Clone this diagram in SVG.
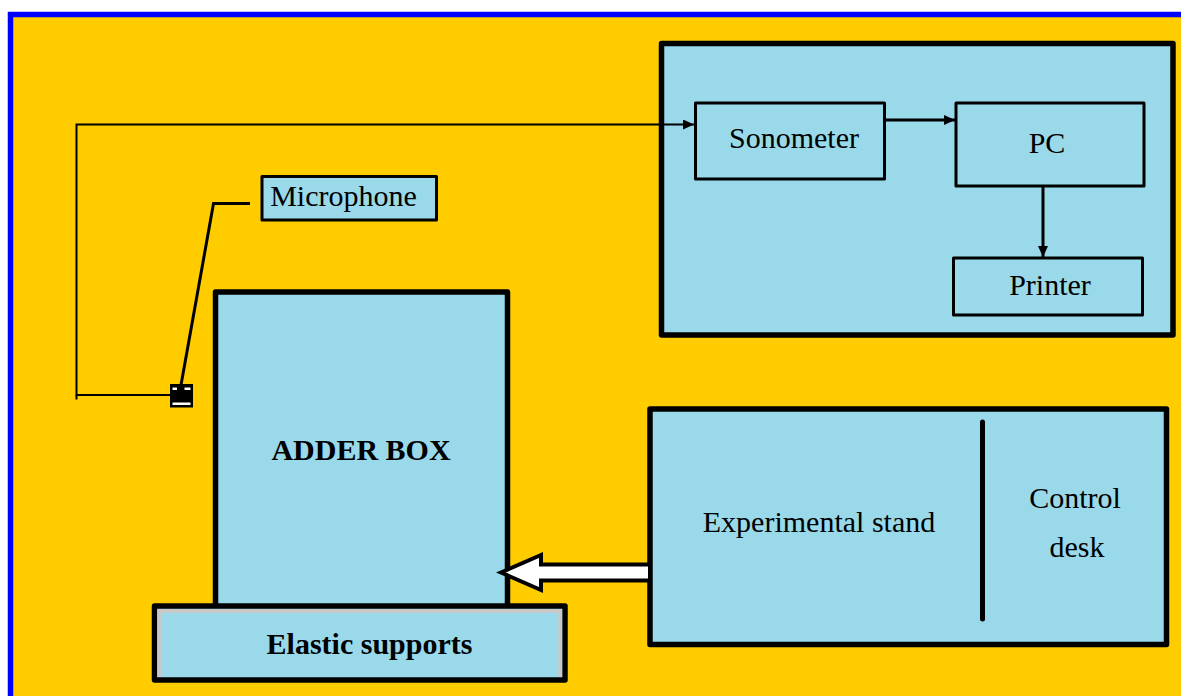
<svg xmlns="http://www.w3.org/2000/svg" width="1181" height="696" viewBox="0 0 1181 696">
  <defs>
    <style>
      .box { fill: #99D9EA; stroke: #000; stroke-linejoin: round; }
      .thick { stroke-width: 5.5; }
      .thin { stroke-width: 3; }
      .lbl { font-family: "Liberation Serif", "Times New Roman", serif; font-size: 30px; fill: #000; }
      .bold { font-weight: bold; }
      .wire { fill: none; stroke: #000; }
    </style>
    <marker id="head" markerUnits="userSpaceOnUse" markerWidth="11" markerHeight="10" refX="11" refY="5" orient="auto">
      <path d="M0,0 L11,5 L0,10 z" fill="#000"/>
    </marker>
  </defs>

  <!-- page background with blue frame -->
  <rect x="0" y="0" width="1181" height="696" fill="#FFFFFF"/>
  <rect x="10.5" y="14.5" width="1200" height="720" fill="#FFCC00" stroke="#0000FF" stroke-width="5.5"/>

  <!-- measurement chain panel -->
  <g id="acquisition-panel">
    <rect class="box thick" x="661.5" y="43.5" width="511.5" height="291.5"/>
  </g>

  <g id="sonometer">
    <rect class="box thin" x="695.5" y="103" width="189" height="76"/>
    <text class="lbl" x="794" y="148" text-anchor="middle">Sonometer</text>
  </g>

  <g id="pc">
    <rect class="box thin" x="956" y="103" width="188" height="83"/>
    <text class="lbl" x="1047" y="153" text-anchor="middle">PC</text>
  </g>

  <g id="printer">
    <rect class="box thin" x="953.5" y="258" width="189" height="57"/>
    <text class="lbl" x="1050" y="295" text-anchor="middle">Printer</text>
  </g>

  <g id="microphone-label">
    <rect class="box thin" x="262" y="176.5" width="174.5" height="43.5"/>
    <text class="lbl" x="343.5" y="206" text-anchor="middle">Microphone</text>
  </g>

  <g id="microphone">
    <rect x="170.5" y="384.5" width="22" height="22.5" fill="#000" stroke="#000" stroke-width="1"/>
    <rect x="172.5" y="387.5" width="4.5" height="2.5" fill="#FFF"/>
    <rect x="184.5" y="387.5" width="6" height="2.5" fill="#FFF"/>
    <rect x="172.5" y="402.5" width="18" height="2.5" fill="#FFF"/>
  </g>

  <g id="adder-box">
    <rect class="box thick" x="215.5" y="292" width="292" height="330"/>
    <text class="lbl bold" x="361" y="460" text-anchor="middle">ADDER BOX</text>
  </g>

  <g id="elastic-supports">
    <rect class="box thick" x="154.5" y="606" width="410.5" height="74"/>
    <path d="M159.2,677 V611 H560.2 V677" fill="none" stroke="#C8C8C8" stroke-width="4"/>
    <text class="lbl bold" x="369.5" y="654" text-anchor="middle">Elastic supports</text>
  </g>

  <g id="experimental-stand">
    <rect class="box thick" x="650" y="409" width="516.5" height="235.5"/>
    <line x1="982.5" y1="422" x2="982.5" y2="619" stroke="#000" stroke-width="5" stroke-linecap="round"/>
    <text class="lbl" x="819" y="532" text-anchor="middle">Experimental stand</text>
    <text class="lbl" x="1075" y="508" text-anchor="middle">Control</text>
    <text class="lbl" x="1077" y="557" text-anchor="middle">desk</text>
  </g>

  <!-- signal lines and the excitation arrow -->
  <g id="connectors">
    <polyline class="wire" stroke-width="2" points="170,395 76.5,395 76.5,124.5 694,124.5" marker-end="url(#head)"/>
    <line class="wire" stroke-width="2" x1="76.5" y1="395" x2="76.5" y2="399.5"/>
    <polyline class="wire" stroke-width="3" points="181,385 213.5,203.5 250,203.5"/>
    <line class="wire" stroke-width="3" x1="886" y1="120" x2="955" y2="120" marker-end="url(#head)"/>
    <line class="wire" stroke-width="3" x1="1043" y1="187" x2="1043" y2="257" marker-end="url(#head)"/>
    <polygon points="650,564.5 541,564.5 541,555 501,572.5 541,590 541,580.5 650,580.5" fill="#FFFFFF" stroke="#000" stroke-width="4" stroke-linejoin="miter"/>
  </g>
</svg>
